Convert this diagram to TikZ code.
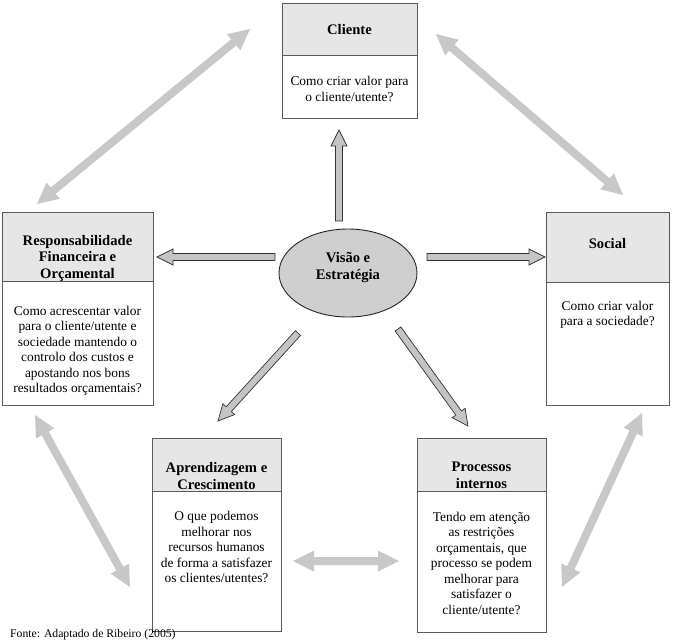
\documentclass[tikz,border=0pt]{standalone}
\usepackage{fontspec}
\setmainfont{Liberation Serif}
\usetikzlibrary{calc}
\definecolor{boxline}{HTML}{5A5A5A}
\definecolor{hdrfill}{HTML}{E6E6E6}
\definecolor{elfill}{HTML}{CFCFCF}
\definecolor{blkfill}{HTML}{C4C4C4}
\definecolor{dblfill}{HTML}{C8C8C8}
\tikzset{
  hdrbox/.style={draw=boxline, line width=0.9pt, fill=hdrfill, inner sep=0pt, anchor=north west},
  bodybox/.style={draw=boxline, line width=0.9pt, fill=white, inner sep=0pt, anchor=north west},
  hdrtext/.style={font=\fontsize{14.6}{16.5}\selectfont\bfseries, align=center, inner sep=0pt},
  bodytext/.style={font=\fontsize{13.4}{15.5}\selectfont, align=center, inner sep=0pt},
  blk/.style={draw=black!80, line width=0.7pt, fill=blkfill, line join=miter},
  dbl/.style={fill=dblfill},
}
\newcommand\blockarr[2]{%
  \coordinate (#1-hb) at ($(#2)!16pt!(#1)$);
  \draw[blk] ($(#1)!3.5pt!90:(#2)$) -- ($(#1-hb)!3.5pt!90:(#2)$) -- ($(#1-hb)!8pt!90:(#2)$) -- (#2)
    -- ($(#1-hb)!8pt!-90:(#2)$) -- ($(#1-hb)!3.5pt!-90:(#2)$) -- ($(#1)!3.5pt!-90:(#2)$) -- cycle;}
\newcommand\dblarr[2]{%
  \coordinate (#1-ha) at ($(#1)!21pt!(#2)$);
  \coordinate (#1-hb) at ($(#2)!21pt!(#1)$);
  \fill[dbl] (#1) -- ($(#1-ha)!10.5pt!90:(#2)$) -- ($(#1-ha)!4pt!90:(#2)$) -- ($(#1-hb)!4pt!-90:(#1)$)
    -- ($(#1-hb)!10.5pt!-90:(#1)$) -- (#2) -- ($(#1-hb)!10.5pt!90:(#1)$) -- ($(#1-hb)!4pt!90:(#1)$)
    -- ($(#1-ha)!4pt!-90:(#2)$) -- ($(#1-ha)!10.5pt!-90:(#2)$) -- cycle;}
\begin{document}
\begin{tikzpicture}[x=1pt, y=-1pt]
\useasboundingbox (0,0) rectangle (673,640);

% Cliente
\node[bodybox, minimum width=135pt, minimum height=63pt] (cliB) at (282,55) {};
\node[hdrbox, minimum width=135pt, minimum height=52pt] (cliH) at (282,3) {};
\node[hdrtext] (cliHt) at (349.5,30) {Cliente};
\node[bodytext] (cliBt) at (349.5,89) {Como criar valor para\\o cliente/utente?};

% Responsabilidade
\node[bodybox, minimum width=151pt, minimum height=124pt] (resB) at (2,281) {};
\node[hdrbox, minimum width=151pt, minimum height=69pt] (resH) at (2,212) {};
\node[hdrtext] (resHt) at (77.5,258) {Responsabilidade\\Financeira e\\Orçamental};
\node[bodytext] (resBt) at (77.5,351) {Como acrescentar valor\\para o cliente/utente e\\sociedade mantendo o\\controlo dos custos e\\apostando nos bons\\resultados orçamentais?};

% Social
\node[bodybox, minimum width=123pt, minimum height=123pt] (socB) at (546,282) {};
\node[hdrbox, minimum width=123pt, minimum height=70pt] (socH) at (546,212) {};
\node[hdrtext] (socHt) at (607.5,244) {Social};
\node[bodytext] (socBt) at (607.5,315) {Como criar valor\\para a sociedade?};

% Aprendizagem
\node[bodybox, minimum width=129pt, minimum height=140pt] (aprB) at (152,491) {};
\node[hdrbox, minimum width=129pt, minimum height=53pt] (aprH) at (152,438) {};
\node[hdrtext] (aprHt) at (216.5,476) {Aprendizagem e\\Crescimento};
\node[bodytext] (aprBt) at (216.5,547) {O que podemos\\melhorar nos\\recursos humanos\\de forma a satisfazer\\os clientes/utentes?};

% Processos
\node[bodybox, minimum width=129pt, minimum height=141pt] (proB) at (417,491) {};
\node[hdrbox, minimum width=129pt, minimum height=53pt] (proH) at (417,438) {};
\node[hdrtext] (proHt) at (481.5,475.5) {Processos\\internos};
\node[bodytext] (proBt) at (481.5,563) {Tendo em atenção\\as restrições\\orçamentais, que\\processo se podem\\melhorar para\\satisfazer o\\cliente/utente?};

% Ellipse
\draw[draw=black!85, line width=0.9pt, fill=elfill] (348,273) ellipse [x radius=69, y radius=44];
\node[hdrtext] (vis) at (348,267.5) {Visão e\\Estratégia};

% Block arrows from the centre
\coordinate (upS) at (339,221);   \coordinate (upT) at (339,130);
\coordinate (lfS) at (275,257);   \coordinate (lfT) at (157,257);
\coordinate (rtS) at (427,257);   \coordinate (rtT) at (545,257);
\coordinate (dlS) at (298,333);   \coordinate (dlT) at (218,421);
\coordinate (drS) at (398,329);   \coordinate (drT) at (468,426);
\blockarr{upS}{upT}
\blockarr{lfS}{lfT}
\blockarr{rtS}{rtT}
\blockarr{dlS}{dlT}
\blockarr{drS}{drT}

% Double arrows
\coordinate (tlA) at (37,204);  \coordinate (tlB) at (250,29);
\coordinate (trA) at (436,34);  \coordinate (trB) at (623,195);
\coordinate (lbA) at (35,415);  \coordinate (lbB) at (130,587);
\coordinate (rbA) at (642,413); \coordinate (rbB) at (562,587);
\coordinate (mdA) at (293,561); \coordinate (mdB) at (399,561);
\dblarr{tlA}{tlB}
\dblarr{trA}{trB}
\dblarr{lbA}{lbB}
\dblarr{rbA}{rbB}
\dblarr{mdA}{mdB}

% Source
\node[font=\fontsize{11.7}{13}\selectfont, anchor=base west, inner sep=0pt] (fonte) at (10,637) {Fonte: Adaptado de Ribeiro (2005)};
\end{tikzpicture}
\end{document}
